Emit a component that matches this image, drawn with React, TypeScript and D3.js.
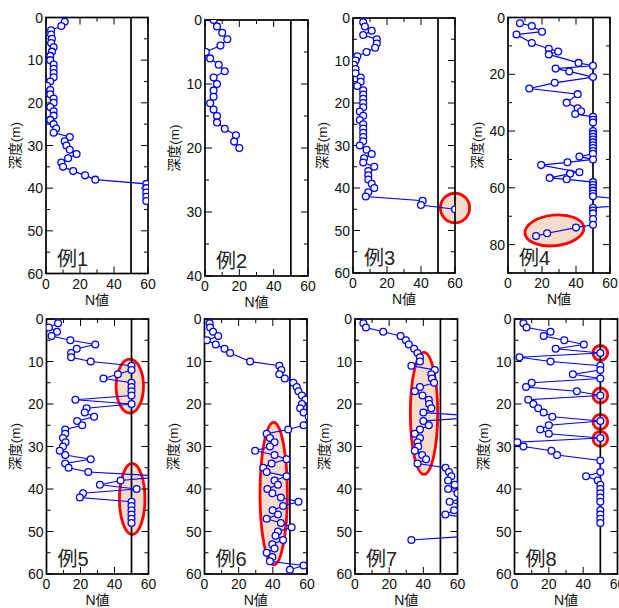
import React from 'react';
import * as d3 from 'd3';

// ---------- data (depth in m, N value) ----------
const depth1 = [1,2,3,4,5,6,7,8,9,10,11,12,13,14,15,16,17,18,19,20,21,22,23,24,25,26,27,28,29,30,31,32,33,34,35,36,37,38,39,40,41,42,43];
const nValue1 = [11,9,3,3,3.5,3,4.5,3.5,2.5,2.5,4.5,4.5,4.5,4.5,2.5,0.6,2.5,2.5,4.5,4.5,2.5,4.5,4.5,2.5,4.5,6,4.5,14,11,12,14,18,13,9,10,16,23,29,59,59,59,59,59];

const depth2 = [0,1,2,3,4,5,6,7,8,9,10,11,12,13,14,15,16,17,18,19,20];
const nValue2 = [5,7,10,13,9,0.5,3,8,11.5,5,7,5,5,3,5,7,7,11.5,18,17,20];

const depth3 = [1,2,3,4,5,6,7,8,9,10,11,12,13,14,15,16,17,18,19,20,21,22,23,24,25,26,27,28,29,30,31,32,33,34,35,36,37,38,39,40,41,42,43,44,45];
const nValue3 = [6,7,11,6,14,14,13,8,2.5,1.5,0.5,1.5,1.5,4.5,4.5,2.5,6,6,6,6,6,4,6,4,6,6,6,6,6,4,8,11,6.5,6,12.5,9,9,9,11,12.5,9,7.5,41,40,60];

const depth4 = [2,3,5,6,9,11,12,13,16,17,18,19,21,23,25,27,30,32,33,34,35,36,37,40,41,42,43,44,45,46,47,48,49,50,51,52,54.5,55,56.5,57,58,59,60,61,62,63,64,65,66,67,68,69,71,73,74,76,77];
const nValue4 = [7,14,20,5,14,24,29.5,24,41.5,50,28,36,50,27.5,12.5,41,34.5,41,43,39.5,50,50,50,50,50,50,50,50,50,50,50,50,42,50,35,19.5,42,36.5,24.5,34.5,50,50,50,50,50,50,67,70,70,50,50,50,50,50,40,23,16.5];

const depth5 = [1,2,3,4,5,6,7,8,9,10,11,12,13,14,15,16,17,18,19,20,21,22,23,24,25,26,27,28,29,30,31,32,33,34,35,36,37,38,39,40,41,42,43,44,45,46,47,48];
const nValue5 = [6.8,1.4,6.2,3,14,28.7,17.8,14.5,14.5,26,50,50,42,33.5,50,50,50,50,17,50,23.6,22.5,28,18,21,11,11,9.7,11.2,9.7,7.8,11,26,11,13,24.6,70,43.6,31.4,53,21.5,19.6,50,50,50,50,50,50];

const depth6 = [1,2,3,4,5,6,7,8,10,11,12,13,14,15,16,17,18,19,20,21,22,23,25,26,27,28,29,30,31,32,33,34,35,36,37,38,39,40,41,42,43,44,45,46,47,48,49,50,51,52,53,54,55,56,57,58,59];
const nValue6 = [3,3.3,5,8,1.4,6.6,11.7,15,26.7,43.8,45,43.8,47,52,54,55,57,59,57,56,58,61,58,49,36.4,38.3,41,38.3,29.6,41,48,39.3,34.4,36.4,48,41,43,36.8,39.7,44.7,55,46,39.9,43,36.4,44.7,51,43,41.6,46,39.7,41,36.4,39.7,38.3,58,50];

const depth7 = [1,2,3,4,5,6,7,8,9,10,11,12,13,14,15,16,17,18,19,20,21,22,23,24,25,26,27,28,29,30,31,32,33,34,35,36,37,38,39,40,41,42,43,44,45,46,47,48,49,50,51,52];
const nValue7 = [4.9,6.4,16.5,26.7,29.8,31.5,34.6,36.6,38,38,33,46.7,44.7,45,46.3,38,35,39.5,43.2,43.4,44.7,40,75,40,43.2,38,35,38,36.6,37,35,39.3,41.6,36.6,53,55,56.4,54.5,58.4,54.5,60,65,55.4,65,58,52.9,70,70,70,70,70,33];

const depth8 = [1,2,3,4,5,6,7,8,9,10,11,12,13,14,15,16,17,18,19,20,21,22,23,24,25,26,27,28,29,30,31,32,33.3,36,37,38,39,40,41,42,43,45,46,47,48];
const nValue8 = [5.2,7,21,17,29,40.4,24,50,2.9,21,50,50,34,50,10,6.7,36.3,50,8,11,13.8,17,22,50,20,15,20,50,1.7,5.2,21.5,24.8,50,50,41.7,48.5,50,50,50,50,50,50,50,50,50];

const panelLabels = ['例1','例2','例3','例4','例5','例6','例7','例8'];
const depthMax = [60, 40, 60, 90, 60, 60, 60, 60];
const depthLabelStep = [10, 10, 10, 20, 10, 10, 10, 10];
const depthMinorStep = [5, 5, 5, 10, 5, 5, 5, 5];
const nTicks = [0, 20, 40, 60];
const nMinorTicks = [10, 30];
const nLimit = 50;

// highlight ellipses: [centre N, centre depth, half-width (N), half-height (depth), rotation deg]
const highlights3 = [[60, 44.7, 8.6, 3.47, 0]];
const highlights4 = [[27.3, 75, 17.4, 5.4, -6]];
const highlights5 = [[49, 15.8, 8.06, 6.35, 0], [50.4, 42.35, 7.5, 8.35, 0]];
const highlights6 = [[40.5, 41.1, 8, 16.75, 0]];
const highlights7 = [[40.4, 22.2, 8, 14.35, 0]];
const highlights8 = [[50, 8, 4.3, 1.76, 0], [50, 18, 4.3, 1.76, 0], [50, 24.2, 4.3, 1.76, 0], [50, 28.2, 4.3, 1.76, 0]];

const depths = [depth1, depth2, depth3, depth4, depth5, depth6, depth7, depth8];
const nValues = [nValue1, nValue2, nValue3, nValue4, nValue5, nValue6, nValue7, nValue8];
const highlights = [[], [], highlights3, highlights4, highlights5, highlights6, highlights7, highlights8];

// ---------- layout ----------
const W = 619, H = 608;
const boxes = [
  { x: 46, y: 17.5, w: 102, h: 256 },
  { x: 205, y: 20, w: 103, h: 256 },
  { x: 353, y: 18, w: 102, h: 255 },
  { x: 508, y: 17.5, w: 102, h: 255.5 },
  { x: 46.5, y: 319, w: 102, h: 255 },
  { x: 204.5, y: 319, w: 102.5, h: 255 },
  { x: 355, y: 319, w: 102.5, h: 255 },
  { x: 514.5, y: 319, w: 103, h: 255 },
];
const FONT = "'Liberation Sans', Arial, 'Noto Sans CJK JP', sans-serif";
const BLUE = '#0000ff';

function Panel({ i }: { i: number }) {
  const b = boxes[i];
  const x = d3.scaleLinear().domain([0, 60]).range([b.x, b.x + b.w]);
  const y = d3.scaleLinear().domain([0, depthMax[i]]).range([b.y, b.y + b.h]);
  const pts = depths[i].map((d, k) => [nValues[i][k], d] as [number, number]);
  const line = d3.line<[number, number]>().x(p => x(p[0])).y(p => y(p[1]));
  const clipId = `clip${i}`;
  const majorY = d3.range(0, depthMax[i] + 0.001, depthLabelStep[i]);
  const minorY = d3.range(0, depthMax[i] + 0.001, depthMinorStep[i]).filter(v => !majorY.includes(v));
  const sx = x(1) - x(0), sy = y(1) - y(0);
  const majLen = 7, minLen = 4;
  return (
    <g>
      <defs>
        <clipPath id={clipId}>
          <rect x={b.x} y={b.y} width={b.w} height={b.h} />
        </clipPath>
      </defs>
      {/* highlight ellipses */}
      {highlights[i].map((e, k) => {
        const cx = x(e[0]), cy = y(e[1]);
        return (
          <ellipse key={k} cx={cx} cy={cy} rx={e[2] * sx} ry={e[3] * sy}
            transform={`rotate(${e[4]} ${cx} ${cy})`}
            fill="#f6dccb" stroke="#ff0000" strokeWidth={2.8} />
        );
      })}
      {/* y ticks */}
      {majorY.map(v => (
        <g key={'my' + v}>
          <line x1={b.x} x2={b.x + majLen} y1={y(v)} y2={y(v)} stroke="#000" strokeWidth={1} />
          <line x1={b.x + b.w} x2={b.x + b.w - majLen} y1={y(v)} y2={y(v)} stroke="#000" strokeWidth={1} />
          <text x={b.x - 3} y={y(v)} dy="0.36em" textAnchor="end" fontSize={14} fontFamily={FONT} fill="#111">{v}</text>
        </g>
      ))}
      {minorY.map(v => (
        <g key={'ny' + v}>
          <line x1={b.x} x2={b.x + minLen} y1={y(v)} y2={y(v)} stroke="#000" strokeWidth={1} />
          <line x1={b.x + b.w} x2={b.x + b.w - minLen} y1={y(v)} y2={y(v)} stroke="#000" strokeWidth={1} />
        </g>
      ))}
      {/* x ticks */}
      {nTicks.map(v => (
        <g key={'mx' + v}>
          <line x1={x(v)} x2={x(v)} y1={b.y + b.h} y2={b.y + b.h - majLen} stroke="#000" strokeWidth={1} />
          <line x1={x(v)} x2={x(v)} y1={b.y} y2={b.y + majLen} stroke="#000" strokeWidth={1} />
          <text x={x(v)} y={b.y + b.h + 15} textAnchor="middle" fontSize={14} fontFamily={FONT} fill="#111">{v}</text>
        </g>
      ))}
      {nMinorTicks.map(v => (
        <g key={'nx' + v}>
          <line x1={x(v)} x2={x(v)} y1={b.y + b.h} y2={b.y + b.h - minLen} stroke="#000" strokeWidth={1} />
          <line x1={x(v)} x2={x(v)} y1={b.y} y2={b.y + minLen} stroke="#000" strokeWidth={1} />
        </g>
      ))}
      {/* limit line */}
      <line x1={x(nLimit)} x2={x(nLimit)} y1={b.y} y2={b.y + b.h} stroke="#000" strokeWidth={1.7} />
      {/* frame */}
      <rect x={b.x} y={b.y} width={b.w} height={b.h} fill="none" stroke="#000" strokeWidth={1.7} />
      {/* data */}
      <g clipPath={`url(#${clipId})`}>
        <path d={line(pts) || ''} fill="none" stroke={BLUE} strokeWidth={1.2} />
        {pts.map((p, k) => (
          <circle key={k} cx={x(p[0])} cy={y(p[1])} r={3.4} fill="#fff" stroke={BLUE} strokeWidth={1.3} />
        ))}
      </g>
      {/* labels */}
      <text x={b.x + 11} y={b.y + b.h - 8} fontSize={20} fontFamily={FONT} fill="#222">{panelLabels[i]}</text>
      <text x={b.x + b.w / 2} y={b.y + b.h + 31} textAnchor="middle" fontSize={14} fontFamily={FONT} fill="#111">N値</text>
      <text transform={`translate(${b.x - 31},${b.y + b.h / 2}) rotate(-90)`} textAnchor="middle" dy="0.35em"
        fontSize={13.5} fontFamily={FONT} fill="#111">深度(m)</text>
    </g>
  );
}

export default function App() {
  return (
    <svg width={W} height={H} style={{ position: 'absolute', left: 0, top: 0, background: '#fff' }}>
      <rect x={0} y={0} width={W} height={H} fill="#fff" />
      {boxes.map((_, i) => <Panel key={i} i={i} />)}
    </svg>
  );
}
